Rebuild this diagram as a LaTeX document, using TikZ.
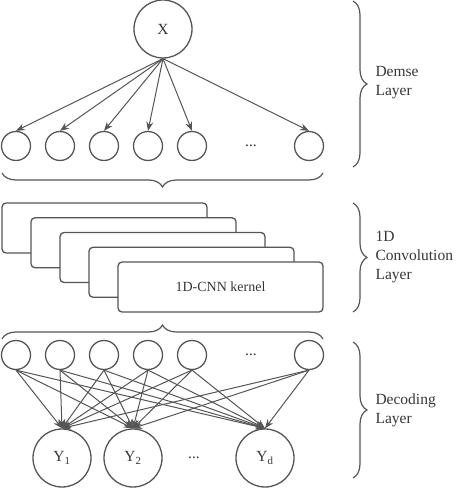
\documentclass[tikz,border=0pt]{standalone}
\usepackage{fontspec}
\setmainfont{Liberation Serif}
\usetikzlibrary{arrows.meta,positioning,decorations.pathreplacing}
\definecolor{linegray}{RGB}{85,85,85}
\definecolor{textgray}{RGB}{55,55,55}
\begin{document}
\begin{tikzpicture}[x=1pt,y=1pt,node distance=44pt,
	font=\fontsize{15.5}{19}\selectfont, text=textgray,
	unit/.style={draw=linegray, circle, line width=1.3pt, minimum size=29pt, inner sep=0pt},
	big/.style={unit, minimum size=58pt},
	kernel/.style={draw=linegray, fill=white, rounded corners=4pt, line width=1.3pt, minimum width=205pt, minimum height=50pt},
	conn/.style={draw=linegray, line width=1pt, -{Stealth[length=9pt,width=7pt]}},
	lbrace/.style={draw=linegray, line width=1.2pt, decorate, decoration={brace, amplitude=14pt}}]
	\useasboundingbox (0,0) rectangle (460,488);
	% dense layer
	\node (x) [big] at (163,459) {X};
	\node (h1) [unit] at (16,342) {};
	\node (h2) [unit, right of = h1] {};
	\node (h3) [unit, right of = h2] {};
	\node (h4) [unit, right of = h3] {};
	\node (h5) [unit, right of = h4] {};
	\node (hdots) [right of = h5, xshift=15pt] {...};
	\node (h6) [unit, right of = hdots, xshift=14pt] {};
	\draw [conn] (x.south) -- (h1.north);
	\draw [conn] (x.south) -- (h2.north);
	\draw [conn] (x.south) -- (h3.north);
	\draw [conn] (x.south) -- (h4.north);
	\draw [conn] (x.south) -- (h5.north);
	\draw [conn] (x.south) -- (h6.north);
	% convolution kernels
	\node (k1) [kernel] at (104.5,260) {};
	\node (k2) [kernel, xshift=29pt, yshift=-14.75pt] at (k1) {};
	\node (k3) [kernel, xshift=29pt, yshift=-14.75pt] at (k2) {};
	\node (k4) [kernel, xshift=29pt, yshift=-14.75pt] at (k3) {};
	\node (k5) [kernel, xshift=29pt, yshift=-14.75pt, font=\fontsize{14}{17}\selectfont] at (k4) {1D-CNN kernel};
	% decoding layer
	\node (b1) [unit] at (16,133) {};
	\node (b2) [unit, right of = b1] {};
	\node (b3) [unit, right of = b2] {};
	\node (b4) [unit, right of = b3] {};
	\node (b5) [unit, right of = b4] {};
	\node (bdots) [right of = b5, xshift=15pt] {...};
	\node (b6) [unit, right of = bdots, xshift=14pt] {};
	\node (y1) [big] at (62,30) {Y\textsubscript{1}};
	\node (y2) [big, right of = y1, xshift=27pt] {Y\textsubscript{2}};
	\node (ydots) [right of = y2, xshift=17pt] {...};
	\node (yd) [big, right of = ydots, xshift=27pt] {Y\textsubscript{d}};
	\path (b1.south) edge [conn] (y1.north) edge [conn] (y2.north) edge [conn] (yd.north);
	\path (b2.south) edge [conn] (y1.north) edge [conn] (y2.north) edge [conn] (yd.north);
	\path (b3.south) edge [conn] (y1.north) edge [conn] (y2.north) edge [conn] (yd.north);
	\path (b4.south) edge [conn] (y1.north) edge [conn] (y2.north) edge [conn] (yd.north);
	\path (b5.south) edge [conn] (y1.north) edge [conn] (y2.north) edge [conn] (yd.north);
	\path (b6.south) edge [conn] (y1.north) edge [conn] (y2.north) edge [conn] (yd.north);
	% braces and layer names
	\draw [lbrace] (323,315) -- (2,315);
	\draw [lbrace] (2,149) -- (323,149);
	\draw [lbrace] (353,487) -- (353,321);
	\draw [lbrace] (353,285) -- (353,176);
	\draw [lbrace] (353,146) -- (353,10);
	\node (lbldense) [align=left, anchor=west] at (372,405) {Demse\\Layer};
	\node (lblconv) [align=left, anchor=west] at (372,231) {1D\\Convolution\\Layer};
	\node (lbldec) [align=left, anchor=west] at (372,78) {Decoding\\Layer};
\end{tikzpicture}
\end{document}
